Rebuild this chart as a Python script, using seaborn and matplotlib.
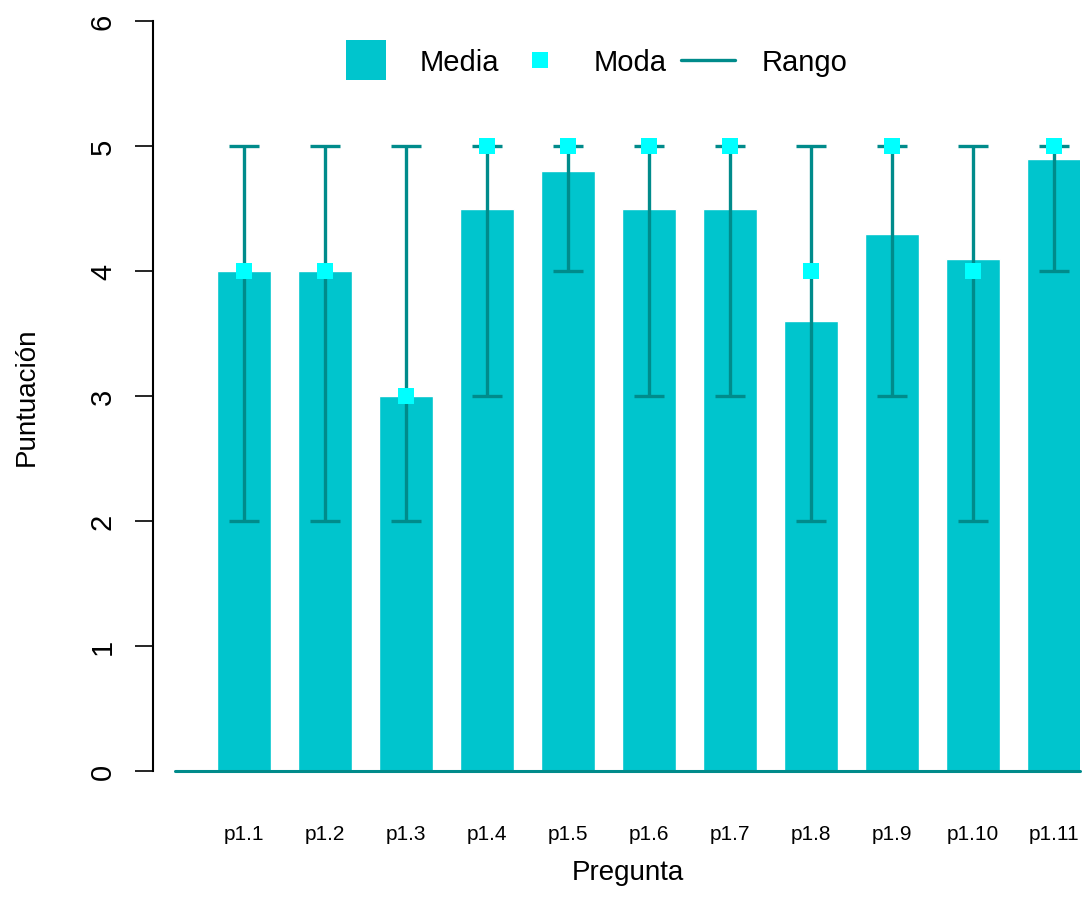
import matplotlib
matplotlib.use("Agg")
import matplotlib.pyplot as plt
import seaborn as sns
from matplotlib.lines import Line2D

# -------------------------
# Data
# -------------------------
preguntas = ["p1.1", "p1.2", "p1.3", "p1.4", "p1.5", "p1.6",
             "p1.7", "p1.8", "p1.9", "p1.10", "p1.11"]
media = [4.0, 4.0, 3.0, 4.5, 4.8, 4.5, 4.5, 3.6, 4.3, 4.1, 4.9]
moda = [4, 4, 3, 5, 5, 5, 5, 4, 5, 4, 5]
rango_min = [2, 2, 2, 3, 4, 3, 3, 2, 3, 2, 4]
rango_max = [5, 5, 5, 5, 5, 5, 5, 5, 5, 5, 5]

COL_BAR = "#00C5CD"
COL_MODA = "#00FFFF"
COL_RANGO = "#008B8B"

sns.set_style("ticks")
plt.rcParams["font.family"] = ["Liberation Sans", "DejaVu Sans"]
plt.rcParams["text.color"] = "black"
plt.rcParams["axes.labelcolor"] = "black"

# -------------------------
# Figure / axes
# -------------------------
fig = plt.figure(figsize=(10.87, 9.2), dpi=100)
W, H = 1087, 920
ax = fig.add_axes([175 / W, (H - 772) / H, (1080 - 175) / W, (772 - 22) / H])

sns.barplot(x=preguntas, y=media, color=COL_BAR, saturation=1,
            width=0.67, ax=ax, zorder=1)

x = list(range(len(preguntas)))
mid = [(a + b) / 2 for a, b in zip(rango_min, rango_max)]
half = [(b - a) / 2 for a, b in zip(rango_min, rango_max)]
ax.errorbar(x, mid, yerr=half, fmt="none", ecolor=COL_RANGO,
            elinewidth=2.4, capsize=10.5, capthick=2.4, zorder=3)
ax.plot(x, moda, linestyle="none", marker="s", markersize=11,
        color=COL_MODA, markeredgewidth=0, zorder=4)

ax.axhline(0, color=COL_RANGO, lw=2.2, zorder=5, clip_on=False)

# -------------------------
# Axes styling
# -------------------------
ax.set_xlim(-0.852, 10.32)
ax.set_ylim(0, 6)
ax.set_yticks(range(7))
for s in ["top", "right", "bottom"]:
    ax.spines[s].set_visible(False)
ax.spines["left"].set_position(("outward", 15.8))
ax.spines["left"].set_linewidth(1.5)
ax.spines["left"].set_color("black")

ax.tick_params(axis="y", length=13, width=1.2, labelsize=21,
               labelrotation=90, pad=13, colors="black")
for lab in ax.get_yticklabels():
    lab.set_va("center")
ax.tick_params(axis="x", length=0, labelsize=15, pad=38, colors="black")

ax.set_xlabel("Pregunta", fontsize=20)
ax.set_ylabel("Puntuación", fontsize=20)
ax.xaxis.set_label_coords(0.5, -0.117)
ax.yaxis.set_label_coords(-0.150, 0.5)

# -------------------------
# Legend
# -------------------------
handles = [
    Line2D([], [], linestyle="none", marker="s", markersize=29,
           color=COL_BAR, markeredgewidth=0, label="Media"),
    Line2D([], [], linestyle="none", marker="s", markersize=11,
           color=COL_MODA, markeredgewidth=0, label="Moda"),
    Line2D([], [], color=COL_RANGO, lw=2.4, label="Rango"),
]
ax.legend(handles=handles, loc="center", bbox_to_anchor=(0.462, 0.945),
          ncol=3, frameon=False, fontsize=21, handlelength=1.85,
          handletextpad=0.9, columnspacing=0.5)

fig.savefig("out.png", dpi=100)
